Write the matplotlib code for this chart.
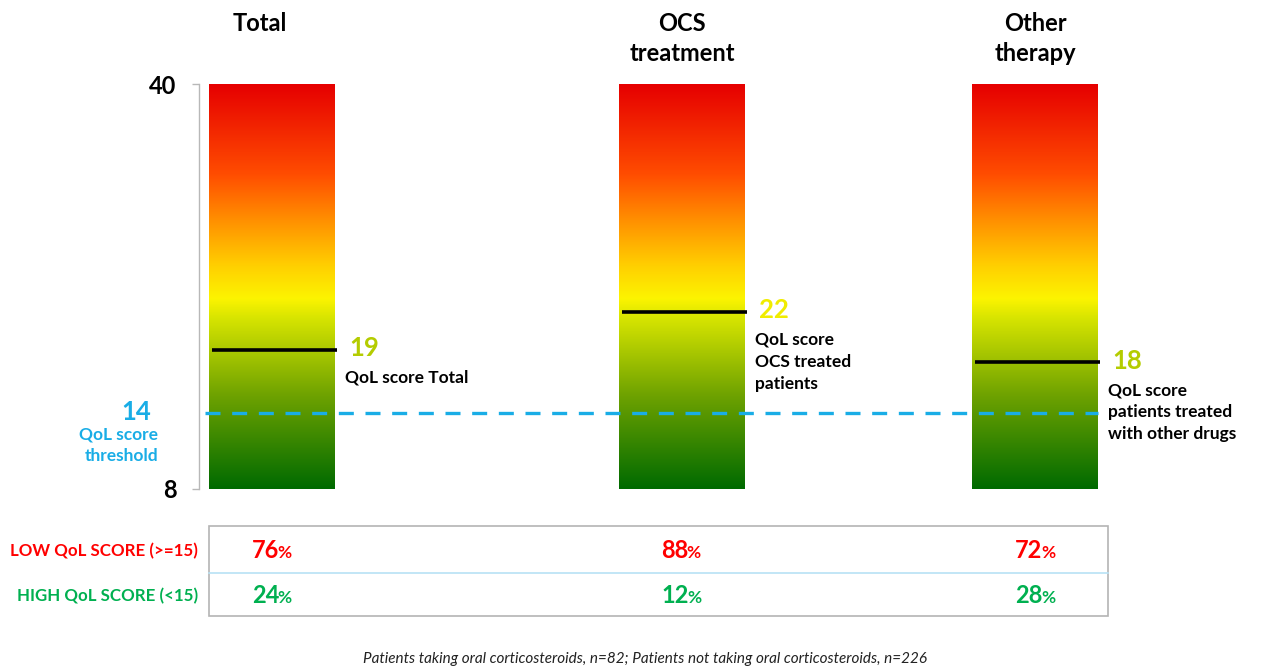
import numpy as np
import matplotlib
matplotlib.use("Agg")
import matplotlib.pyplot as plt
from matplotlib.colors import LinearSegmentedColormap
from matplotlib.patches import Rectangle
from matplotlib.lines import Line2D

plt.rcParams['font.family'] = ['Lato', 'DejaVu Sans']

# ---- data ----
groups = ["Total", "OCS\ntreatment", "Other\ntherapy"]
qol_scores = [19, 22, 18]
score_colors = ["#b4cc00", "#f0ec00", "#b4cc00"]
captions = ["QoL score Total", "QoL score\nOCS treated\npatients",
            "QoL score\npatients treated\nwith other drugs"]
scale_min, scale_max = 8, 40
threshold = 14
row_labels = ["LOW QoL SCORE (>=15)", "HIGH QoL SCORE (<15)"]
low_pct = [76, 88, 72]
high_pct = [24, 12, 28]
footnote = "Patients taking oral corticosteroids, n=82; Patients not taking oral corticosteroids, n=226"

# ---- layout ----
W, H = 1267, 669
fig = plt.figure(figsize=(W / 100, H / 100), dpi=100)

def fx(x):
    return x / W

def fy(y):
    return 1 - y / H

ax_left, ax_top, ax_bot = 199, 84, 489
ax = fig.add_axes([fx(ax_left), fy(ax_bot), fx(W - ax_left), (ax_bot - ax_top) / H])
centers = [73, 483, 836]
bw = 126

cmap = LinearSegmentedColormap.from_list("qol", [
    (0.00, "#006a00"),
    (0.23, "#6ea200"),
    (0.42, "#d6e400"),
    (0.47, "#fcf400"),
    (0.55, "#ffd000"),
    (0.65, "#ff9800"),
    (0.78, "#ff4c00"),
    (1.00, "#e60000"),
])
grad = np.linspace(0, 1, 256).reshape(-1, 1)

for c, val, col, cap in zip(centers, qol_scores, score_colors, captions):
    bars = ax.bar(c, scale_max - scale_min, bottom=scale_min, width=bw,
                  color="none", edgecolor="none")
    im = ax.imshow(grad, extent=[c - bw / 2, c + bw / 2, scale_min, scale_max],
                   origin="lower", aspect="auto", cmap=cmap, zorder=1)
    im.set_clip_path(bars[0])
    ax.hlines(val, c - bw / 2 + 3, c + bw / 2 + 2, color="black", lw=2.6, zorder=4)
    ax.annotate(str(val), (c + bw / 2, val), xytext=(10, 1), textcoords="offset points",
                ha="left", va="center", fontsize=18.5, fontweight="bold", color=col,
                annotation_clip=False)
    ax.annotate(cap, (c + bw / 2, val), xytext=(7, -14.5), textcoords="offset points",
                ha="left", va="top", fontsize=12.5, fontweight="bold", color="black",
                linespacing=1.45, annotation_clip=False)

ax.hlines(threshold, 6, 899, color="#19ade6", lw=2.4, linestyles=(0, (4.5, 3.5)), zorder=3)

ax.set_xlim(0, W - ax_left)
ax.set_ylim(scale_min, scale_max)
ax.set_xticks([])
ax.set_yticks([scale_min, scale_max])
ax.set_yticklabels([str(scale_min), str(scale_max)], fontsize=17, fontweight="bold")
ax.tick_params(axis="y", length=5, width=1, color="#b8b8b8", pad=11)
for s in ["top", "right", "bottom"]:
    ax.spines[s].set_visible(False)
ax.spines["left"].set_color("#b8b8b8")
ax.spines["left"].set_linewidth(1)
ax.patch.set_alpha(0)

# threshold label
ax.annotate(str(threshold), (0, threshold), xytext=(-45, 1), textcoords="offset points",
            ha="center", va="center", fontsize=18.5, fontweight="bold", color="#19ade6",
            annotation_clip=False)
fig.text(fx(158), fy(445), "QoL score\nthreshold", ha="right", va="center",
         fontsize=12.5, fontweight="bold", color="#19ade6", linespacing=1.45)

# group titles
title_x = [260, 682, 1035]
for tx, g in zip(title_x, groups):
    fig.text(fx(tx), fy(12), g, ha="center", va="top", fontsize=17,
             fontweight="bold", color="black", linespacing=1.35)

# table
fig.add_artist(Rectangle((fx(209), fy(616)), fx(1108 - 209), (616 - 526) / H,
                         transform=fig.transFigure, fill=False, edgecolor="#b4b4b4", lw=1.2))
fig.add_artist(Line2D([fx(209), fx(1108)], [fy(573), fy(573)], transform=fig.transFigure,
                      color="#b8e2f5", lw=1.2))
row_y = [551, 596]
row_cols = ["#ff0000", "#00b050"]
for ry, lab, rc in zip(row_y, row_labels, row_cols):
    fig.text(fx(198), fy(ry), lab, ha="right", va="center", fontsize=12.2,
             fontweight="bold", color=rc)

fig.canvas.draw()
renderer = fig.canvas.get_renderer()
pct_x = [252, 661, 1015]
for ry, vals, rc in zip(row_y, [low_pct, high_pct], row_cols):
    for px_, v in zip(pct_x, vals):
        t = fig.text(fx(px_), fy(ry + 7), str(v), ha="left", va="baseline",
                     fontsize=17, fontweight="bold", color=rc)
        bb = t.get_window_extent(renderer)
        fig.text((bb.x1 - 1.5) / W, fy(ry + 7), "%",
                 ha="left", va="baseline", fontsize=12.5, fontweight="bold", color=rc)

fig.text(fx(645), fy(659), footnote, ha="center", va="center", fontsize=11,
         style="italic", color="#222222")

fig.savefig("out.png", dpi=100)
